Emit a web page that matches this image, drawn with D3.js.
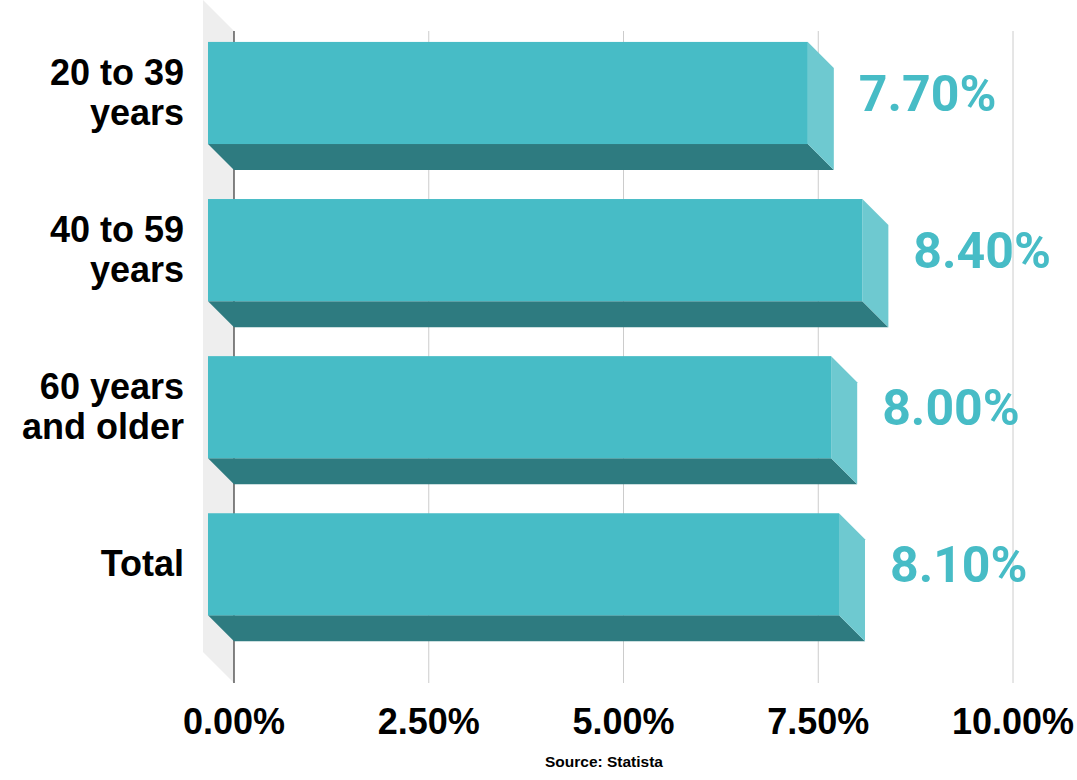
<!DOCTYPE html>
<html>
<head>
<meta charset="utf-8">
<script src="https://cdn.jsdelivr.net/npm/d3@7"></script>
<style>
  body { margin: 0; background: #fff; }
  svg { display: block; }
</style>
</head>
<body>
<div id="chart"></div>
<script>
// data
var categories = [["20 to 39", "years"], ["40 to 59", "years"], ["60 years", "and older"], ["Total"]];
var values = [7.7, 8.4, 8.0, 8.1];
var ticks = [0, 2.5, 5, 7.5, 10];

var svgWidth = 1077;
var svgHeight = 780;

// plot area (back plane of the 3d box)
var plot = { left: 234, right: 1013, top: 31, bottom: 683 };
var wallDepth = 31;   // depth of the grey side wall
var barDepth = 26;    // how far the bar fronts sit forward

var front = "#47bcc6", side = "#6ec9d0", shade = "#2e7b80";

var svg = d3.select("#chart")
    .append("svg")
    .attr("width", svgWidth)
    .attr("height", svgHeight);

var xScale = d3.scaleLinear()
    .domain([0, 10])
    .range([plot.left, plot.right]);

var yScale = d3.scaleBand()
    .domain(d3.range(categories.length))
    .range([plot.top, plot.bottom])
    .paddingInner(0.35)
    .paddingOuter(0.25)
    .align(0.47);

// side wall
svg.append("polygon")
    .attr("points", [
        [plot.left - wallDepth, plot.top - wallDepth],
        [plot.left, plot.top],
        [plot.left, plot.bottom],
        [plot.left - wallDepth, plot.bottom - wallDepth]
    ].join(" "))
    .attr("fill", "#eeeeee");

// gridlines
svg.append("g").selectAll("line")
    .data(ticks.slice(1))
    .enter()
    .append("line")
    .attr("x1", d => xScale(d))
    .attr("x2", d => xScale(d))
    .attr("y1", plot.top)
    .attr("y2", plot.bottom)
    .attr("stroke", "#cccccc")
    .attr("stroke-width", 1);

svg.append("line")
    .attr("x1", xScale(0))
    .attr("x2", xScale(0))
    .attr("y1", plot.top)
    .attr("y2", plot.bottom)
    .attr("stroke", "#333333")
    .attr("stroke-width", 1.2);

// bars
var bars = svg.append("g").selectAll("g")
    .data(values)
    .enter()
    .append("g");

bars.each(function(v, i) {
    var g = d3.select(this);
    var x0 = xScale(0), x1 = xScale(v);
    var y0 = yScale(i), y1 = yScale(i) + yScale.bandwidth();
    var d = barDepth;

    // bottom face
    g.append("polygon")
        .attr("points", [[x0 - d, y1 - d], [x1 - d, y1 - d], [x1, y1], [x0, y1]].join(" "))
        .attr("fill", shade);
    // right face
    g.append("polygon")
        .attr("points", [[x1 - d, y0 - d], [x1, y0], [x1, y1], [x1 - d, y1 - d]].join(" "))
        .attr("fill", side);
    // front face
    g.append("rect")
        .attr("x", x0 - d)
        .attr("y", y0 - d)
        .attr("width", x1 - x0)
        .attr("height", y1 - y0)
        .attr("fill", front);

    // value label
    g.append("text")
        .attr("x", x1 + 25)
        .attr("y", (y0 + y1) / 2 - d + 18)
        .attr("font-family", "Roboto, sans-serif")
        .attr("font-weight", 700)
        .attr("font-size", 50)
        .attr("fill", front)
        .text(v.toFixed(2) + "%");
});

// category labels
svg.append("g").selectAll("text")
    .data(categories)
    .enter()
    .append("text")
    .attr("text-anchor", "end")
    .attr("font-family", "'Liberation Sans', Arial, sans-serif")
    .attr("font-weight", "bold")
    .attr("font-size", 36)
    .attr("fill", "#000")
    .each(function(lines, i) {
        var cy = yScale(i) + yScale.bandwidth() / 2 - barDepth;
        var lh = 40;
        var first = cy + 12 - (lines.length - 1) * lh / 2;
        d3.select(this).selectAll("tspan")
            .data(lines)
            .enter()
            .append("tspan")
            .attr("x", 184)
            .attr("y", (t, j) => first + j * lh)
            .text(t => t);
    });

// x tick labels
svg.append("g").selectAll("text")
    .data(ticks)
    .enter()
    .append("text")
    .attr("x", d => xScale(d))
    .attr("y", 734)
    .attr("text-anchor", "middle")
    .attr("font-family", "'Liberation Sans', Arial, sans-serif")
    .attr("font-weight", "bold")
    .attr("font-size", 36)
    .attr("fill", "#000")
    .text(d => d.toFixed(2) + "%");

svg.append("text")
    .attr("x", 604)
    .attr("y", 767)
    .attr("text-anchor", "middle")
    .attr("font-family", "'Liberation Sans', Arial, sans-serif")
    .attr("font-weight", "bold")
    .attr("font-size", 15.5)
    .attr("fill", "#000")
    .text("Source: Statista");
</script>
</body>
</html>
